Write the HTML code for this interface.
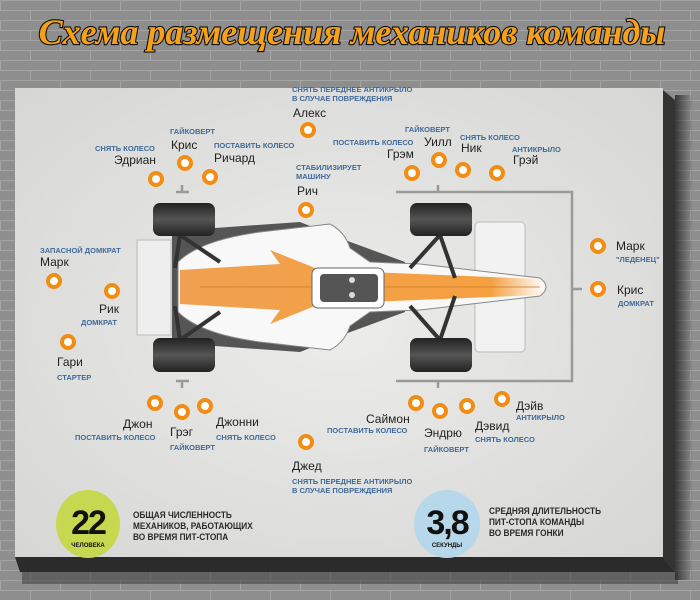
<!DOCTYPE html>
<html><head><meta charset="utf-8"><style>
html,body{margin:0;padding:0;width:700px;height:600px;overflow:hidden;background:#8d8d8d}
svg{display:block}
</style></head><body>
<svg width="700" height="600" viewBox="0 0 700 600" xmlns="http://www.w3.org/2000/svg" font-family="Liberation Sans, DejaVu Sans, sans-serif">
<defs>
<pattern id="brick" width="60" height="20" patternUnits="userSpaceOnUse">
<rect width="60" height="20" fill="#8e8e8e"/>
<path d="M0 0.5H60M0 10.5H60M0.5 0V10M30.5 10V20" stroke="#a4a4a4" stroke-width="1"/>
</pattern>
<linearGradient id="tyre" x1="0" y1="0" x2="0" y2="1">
<stop offset="0" stop-color="#222"/><stop offset="0.5" stop-color="#555"/><stop offset="1" stop-color="#222"/>
</linearGradient>
<linearGradient id="nose" x1="0" y1="0" x2="1" y2="0">
<stop offset="0" stop-color="#f0a050"/><stop offset="0.85" stop-color="#f5a040"/><stop offset="1" stop-color="#fff"/>
</linearGradient>
<radialGradient id="pan" cx="0.5" cy="0.5" r="0.7">
<stop offset="0" stop-color="#ececea"/><stop offset="1" stop-color="#d6d6d4"/>
</radialGradient>
<linearGradient id="shR" x1="0" y1="0" x2="1" y2="0">
<stop offset="0" stop-color="#222" stop-opacity="0.8"/><stop offset="1" stop-color="#222" stop-opacity="0"/>
</linearGradient>
</defs>
<rect width="700" height="600" fill="url(#brick)"/>
<rect x="675" y="95" width="18" height="485" fill="url(#shR)"/>
<rect x="22" y="572" width="656" height="12" fill="#333" opacity="0.5"/>
<polygon points="15,557 663,557 675,572 20,572" fill="#2b2b2b"/>
<polygon points="663,90 675,100 675,572 663,557" fill="#333"/>
<rect x="15" y="88" width="648" height="469" fill="url(#pan)"/>
<text x="352" y="44" text-anchor="middle" font-family="Liberation Serif, serif" font-style="italic" font-weight="bold" font-size="36" fill="#f5a11c" stroke="#111" stroke-width="2.2" paint-order="stroke">Схема размещения механиков команды</text>

<g stroke="#9a9a9a" stroke-width="2.5" fill="none">
<path d="M182 185V192M176 192H189"/>
<path d="M182 388V381M176 381H189"/>
<path d="M396 192H572V381H396"/>
<path d="M438 185V192M438 388V381M572 289H582"/>
</g>

<g>
<rect x="137" y="240" width="34" height="95" fill="#eee" stroke="#bbb"/>
<rect x="475" y="222" width="50" height="130" rx="4" fill="#f2f2f2" stroke="#bbb"/>
<path d="M172 232 L215 228 L300 222 L345 240 L405 262 L405 312 L345 334 L300 352 L215 346 L172 342 Z" fill="#555"/>
<path d="M178 262 Q200 240 260 232 L330 224 Q345 232 350 248 L370 262 L420 264 L540 278 Q552 287 540 296 L420 310 L370 312 L350 326 Q345 342 330 350 L260 342 Q200 334 178 312 Z" fill="#f8f8f8" stroke="#888" stroke-width="1"/>
<path d="M180 270 L280 264 L270 250 L320 270 L540 279 Q550 287 540 295 L320 304 L270 324 L280 310 L180 304 Z" fill="url(#nose)"/>
<path d="M200 287 H540" stroke="#c77a2a" stroke-width="0.8"/>
<rect x="312" y="268" width="72" height="40" rx="6" fill="#fff" stroke="#666"/>
<rect x="320" y="274" width="58" height="28" rx="4" fill="#555"/>
<circle cx="352" cy="280" r="3" fill="#ddd"/><circle cx="352" cy="295" r="3" fill="#ddd"/>
<g stroke="#333" stroke-width="4">
<path d="M180 235 L220 262 M180 235 L175 268 M180 340 L220 312 M180 340 L175 306"/>
<path d="M440 235 L410 268 M440 235 L455 278 M440 340 L410 306 M440 340 L455 296"/>
</g>
<rect x="153" y="203" width="62" height="33" rx="7" fill="url(#tyre)"/>
<rect x="153" y="338" width="62" height="34" rx="7" fill="url(#tyre)"/>
<rect x="410" y="203" width="62" height="33" rx="7" fill="url(#tyre)"/>
<rect x="410" y="338" width="62" height="34" rx="7" fill="url(#tyre)"/>
</g>

<g fill="#fff" stroke="#f28c12" stroke-width="4">
<circle cx="156" cy="179" r="6"/><circle cx="185" cy="163" r="6"/><circle cx="210" cy="177" r="6"/>
<circle cx="308" cy="130" r="6"/><circle cx="306" cy="210" r="6"/>
<circle cx="412" cy="173" r="6"/><circle cx="439" cy="160" r="6"/><circle cx="463" cy="170" r="6"/><circle cx="497" cy="173" r="6"/>
<circle cx="54" cy="281" r="6"/><circle cx="112" cy="291" r="6"/><circle cx="68" cy="342" r="6"/>
<circle cx="598" cy="246" r="6"/><circle cx="598" cy="289" r="6"/>
<circle cx="155" cy="403" r="6"/><circle cx="182" cy="412" r="6"/><circle cx="205" cy="406" r="6"/>
<circle cx="306" cy="442" r="6"/>
<circle cx="416" cy="403" r="6"/><circle cx="440" cy="411" r="6"/><circle cx="467" cy="406" r="6"/><circle cx="502" cy="399" r="6"/>
</g>

<g font-size="12" fill="#222">
<text x="114" y="164">Эдриан</text><text x="171" y="149">Крис</text><text x="214" y="162">Ричард</text>
<text x="293" y="117">Алекс</text><text x="297" y="195">Рич</text>
<text x="387" y="158">Грэм</text><text x="424" y="146">Уилл</text><text x="461" y="152">Ник</text><text x="513" y="164">Грэй</text>
<text x="40" y="266">Марк</text><text x="99" y="313">Рик</text><text x="57" y="366">Гари</text>
<text x="616" y="250">Марк</text><text x="617" y="294">Крис</text>
<text x="123" y="428">Джон</text><text x="170" y="436">Грэг</text><text x="216" y="426">Джонни</text>
<text x="292" y="470">Джед</text>
<text x="366" y="423">Саймон</text><text x="424" y="437">Эндрю</text><text x="475" y="430">Дэвид</text><text x="516" y="410">Дэйв</text>
</g>
<g font-size="7.5" font-weight="bold" fill="#3f6a9a">
<text x="95" y="151">СНЯТЬ КОЛЕСО</text><text x="170" y="134">ГАЙКОВЕРТ</text><text x="214" y="148">ПОСТАВИТЬ КОЛЕСО</text>
<text x="292" y="92">СНЯТЬ ПЕРЕДНЕЕ АНТИКРЫЛО</text><text x="292" y="101">В СЛУЧАЕ ПОВРЕЖДЕНИЯ</text>
<text x="296" y="170">СТАБИЛИЗИРУЕТ</text><text x="296" y="179">МАШИНУ</text>
<text x="333" y="145">ПОСТАВИТЬ КОЛЕСО</text><text x="405" y="132">ГАЙКОВЕРТ</text><text x="460" y="140">СНЯТЬ КОЛЕСО</text><text x="512" y="152">АНТИКРЫЛО</text>
<text x="40" y="253">ЗАПАСНОЙ ДОМКРАТ</text><text x="81" y="325">ДОМКРАТ</text><text x="57" y="380">СТАРТЕР</text>
<text x="616" y="262">"ЛЕДЕНЕЦ"</text><text x="618" y="306">ДОМКРАТ</text>
<text x="75" y="440">ПОСТАВИТЬ КОЛЕСО</text><text x="170" y="450">ГАЙКОВЕРТ</text><text x="216" y="440">СНЯТЬ КОЛЕСО</text>
<text x="292" y="484">СНЯТЬ ПЕРЕДНЕЕ АНТИКРЫЛО</text><text x="292" y="493">В СЛУЧАЕ ПОВРЕЖДЕНИЯ</text>
<text x="327" y="433">ПОСТАВИТЬ КОЛЕСО</text><text x="424" y="452">ГАЙКОВЕРТ</text><text x="475" y="442">СНЯТЬ КОЛЕСО</text><text x="516" y="420">АНТИКРЫЛО</text>
</g>

<ellipse cx="88" cy="524" rx="32" ry="34" fill="#c6d84f"/>
<text x="88" y="534" text-anchor="middle" font-size="34" font-weight="bold" fill="#111" letter-spacing="-2">22</text>
<text x="88" y="547" text-anchor="middle" font-size="6" font-weight="bold" fill="#111">ЧЕЛОВЕКА</text>
<g font-size="9" font-weight="bold" fill="#2a2a2a" transform="translate(133,0) scale(0.92,1)"><text x="0" y="518">ОБЩАЯ ЧИСЛЕННОСТЬ</text><text x="0" y="529">МЕХАНИКОВ, РАБОТАЮЩИХ</text><text x="0" y="540">ВО ВРЕМЯ ПИТ-СТОПА</text></g>
<ellipse cx="447" cy="524" rx="33" ry="34" fill="#b7d8ea"/>
<text x="447" y="534" text-anchor="middle" font-size="34" font-weight="bold" fill="#111" letter-spacing="-2">3,8</text>
<text x="447" y="547" text-anchor="middle" font-size="6" font-weight="bold" fill="#111">СЕКУНДЫ</text>
<g font-size="9" font-weight="bold" fill="#2a2a2a" transform="translate(489,0) scale(0.92,1)"><text x="0" y="514">СРЕДНЯЯ ДЛИТЕЛЬНОСТЬ</text><text x="0" y="525">ПИТ-СТОПА КОМАНДЫ</text><text x="0" y="536">ВО ВРЕМЯ ГОНКИ</text></g>
</svg>
</body></html>
